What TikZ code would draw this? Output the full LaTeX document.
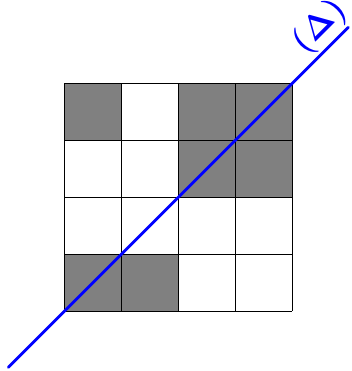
\documentclass[tikz,border=0pt]{standalone}
\usepackage{amsmath}
\usepackage{graphicx}
\begin{document}
\begin{tikzpicture}[x=1pt,y=-1pt,
  cell/.style={draw=black,line width=0.8pt},
  dark/.style={cell,fill=gray},
  axis/.style={draw=blue,line width=2.8pt,line cap=round},
  lab/.style={text=blue,rotate=45,inner sep=0pt,font=\Huge}]
\useasboundingbox (0,0) rectangle (351,371);
\def\gx{64.3}\def\gy{83.3}\def\cs{57}
% dark cells (col,row)
\foreach \c/\r in {0/0,2/0,3/0,2/1,3/1,0/3,1/3}
  \path[dark] ({\gx+\c*\cs},{\gy+\r*\cs}) rectangle ++(\cs,\cs);
\foreach \i in {0,...,4} {
  \draw[cell] ({\gx+\i*\cs},\gy) -- ({\gx+\i*\cs},{\gy+4*\cs});
  \draw[cell] (\gx,{\gy+\i*\cs}) -- ({\gx+4*\cs},{\gy+\i*\cs});
}
\coordinate (A) at (8.3,367.3);
\coordinate (B) at (348.3,27.3);
\draw[axis] (A) -- (B);
\node[lab] (lbl) at (320,26.7) {\scalebox{1.35}{$\boldsymbol{(\Delta)}$}};
\end{tikzpicture}
\end{document}
